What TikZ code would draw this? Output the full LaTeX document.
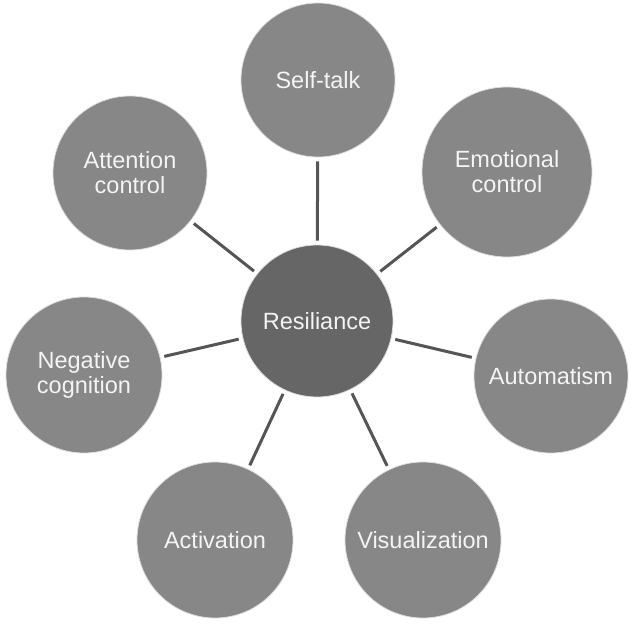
\documentclass[tikz,border=0pt]{standalone}
\usepackage{fontspec}
\setmainfont{Liberation Sans}
\definecolor{outerfill}{HTML}{878787}
\definecolor{centerfill}{HTML}{666666}
\definecolor{linkcol}{HTML}{555555}
\definecolor{txtcol}{HTML}{F4F4F4}
\definecolor{rimcol}{HTML}{DDDDDD}
\tikzset{
  bubble/.style={circle, fill=outerfill, draw=rimcol, line width=0.8pt, inner sep=0pt,
    text=txtcol, align=center, font=\fontsize{23.5}{25}\selectfont},
  hub/.style={bubble, fill=centerfill},
  link/.style={draw=linkcol, line width=3pt, shorten >=4pt, shorten <=4pt}
}
\begin{document}
\begin{tikzpicture}[x=1pt, y={(0pt,-1pt)}]
\useasboundingbox (0,0) rectangle (639,626);
\node[hub, minimum size=152pt] (res) at (317,321) {Resiliance};
\node[bubble, minimum size=154pt] (self) at (318,80) {Self-talk};
\node[bubble, minimum size=170pt] (emo) at (507,172) {Emotional\\control};
\node[bubble, minimum size=154pt] (att) at (130,173) {Attention\\control};
\node[bubble, minimum size=156pt] (neg) at (84,375) {Negative\\cognition};
\node[bubble, minimum size=154pt] (auto) at (551,376) {Automatism};
\node[bubble, minimum size=156pt] (act) at (215,540) {Activation};
\node[bubble, minimum size=156pt] (vis) at (423,540) {Visualization};
\draw[link] (self) -- (res);
\draw[link] (emo) -- (res);
\draw[link] (att) -- (res);
\draw[link] (neg) -- (res);
\draw[link] (auto) -- (res);
\draw[link] (act) -- (res);
\draw[link] (vis) -- (res);
\end{tikzpicture}
\end{document}
